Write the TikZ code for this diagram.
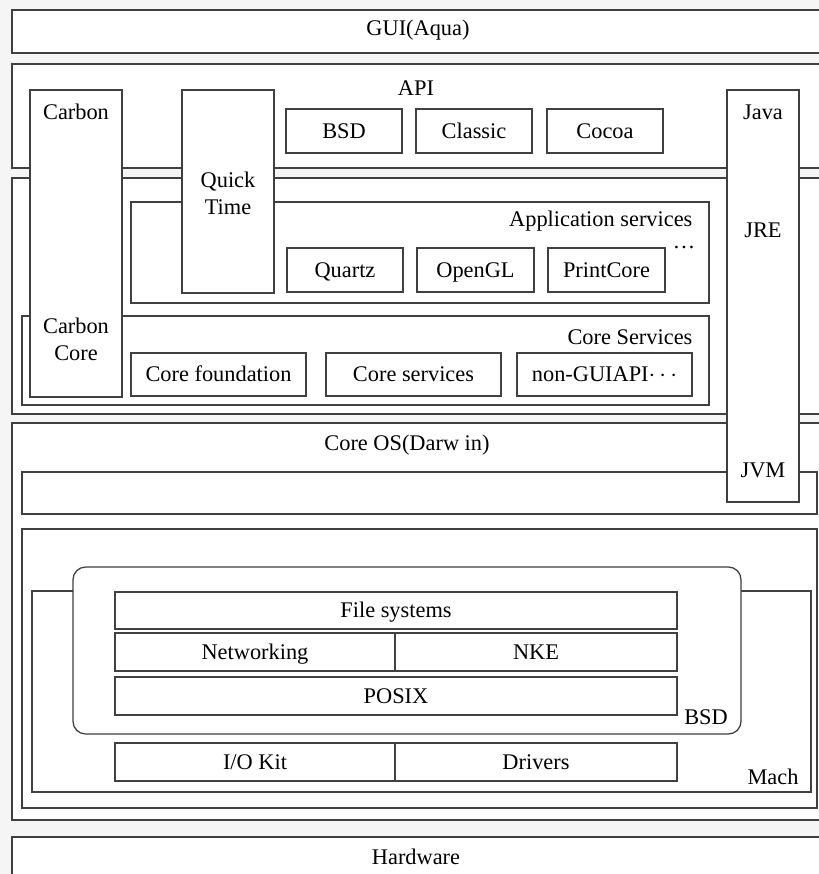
\documentclass[tikz,border=0pt]{standalone}
\usepackage{fontspec}
\setmainfont{Liberation Serif}
\usetikzlibrary{fit}

\begin{document}
\begin{tikzpicture}[x=0.025cm, y=-0.025cm, line width=0.9pt, font={\fontsize{15.9pt}{19.1pt}\selectfont},
  every label/.append style={inner sep=0pt, text height=10.5pt, text depth=0pt}]
  \tikzstyle{layerbox} = [draw=black!75, fill=white, rectangle, inner sep=0pt]
  \tikzstyle{modbox} = [layerbox]
  \tikzstyle{boxtext} = [inner sep=0pt, align=center];

  \useasboundingbox (0,0) rectangle (819,874);
  \clip (0,0) rectangle (819,874);
  \fill[black!4] (0,0) rectangle (819,874);

  % outer layers
  \node[layerbox, fit={(12,10) (830,53)}] (gui) {};
  \node[boxtext] (guitxt) at (418,30) {GUI(Aqua)};
  \node[layerbox, fit={(12,64) (830,168)}] (api) {};
  \node[boxtext] (apitxt) at (416,88) {API};
  \node[layerbox, fit={(12,178) (830,414)}] (services) {};
  \node[layerbox, fit={(12,423) (830,820)}] (coreos) {};
  \node[boxtext] (coreostxt) at (407,445) {Core OS(Darw in)};
  \node[layerbox, fit={(12,837) (830,890)}] (hardware) {};
  \node[boxtext] (hardwaretxt) at (416,857) {Hardware};

  % API
  \node[modbox, fit={(286,109) (402,153)}, label=center:BSD] (bsdapi) {};
  \node[modbox, fit={(416,109) (532,153)}, label=center:Classic] (classic) {};
  \node[modbox, fit={(547,109) (663,153)}, label=center:Cocoa] (cocoa) {};

  % application services
  \node[layerbox, fit={(131,202) (709,303)}] (appsrv) {};
  \node[boxtext, anchor=east] (appsrvtxt) at (693,221) {Application services};
  \node[boxtext] (appsrvdots) at (684,247) {\dots};
  \node[modbox, fit={(287,248) (403,292)}, label=center:Quartz] (quartz) {};
  \node[modbox, fit={(417,248) (534,292)}, label=center:OpenGL] (opengl) {};
  \node[modbox, fit={(548,248) (665,292)}, label=center:PrintCore] (printcore) {};

  % core services
  \node[layerbox, fit={(22,316) (709,405)}] (coresrv) {};
  \node[boxtext, anchor=east] (coresrvtxt) at (693,337) {Core Services};
  \node[modbox, fit={(131,353) (306,396)}, label=center:Core foundation] (corefound) {};
  \node[modbox, fit={(326,353) (501,396)}, label=center:Core services] (coreserv) {};
  \node[modbox, fit={(517,353) (692,396)}, label={center:non-GUIAPI$\cdots$}] (nongui) {};

  % core os
  \node[layerbox, fit={(22,472) (817,514)}] (strip) {};
  \node[layerbox, fit={(22,529) (817,808)}] (kernel) {};
  \node[layerbox, fit={(32,591) (811,792)}] (mach) {};
  \node[boxtext] (machtxt) at (773,777) {Mach};
  \node[layerbox, rounded corners=9pt, fit={(73,567) (741,734)}] (bsdkern) {};
  \node[boxtext] (bsdkerntxt) at (706,717) {BSD};
  \node[modbox, fit={(115,592) (677,629)}, label=center:File systems] (filesys) {};
  \node[modbox, fit={(115,633) (395,671)}, label=center:Networking] (networking) {};
  \node[modbox, fit={(395,633) (677,671)}, label=center:NKE] (nke) {};
  \node[modbox, fit={(115,677) (677,715)}, label=center:POSIX] (posix) {};
  \node[modbox, fit={(115,743) (395,781)}, label=center:I/O Kit] (iokit) {};
  \node[modbox, fit={(395,743) (677,781)}, label=center:Drivers] (drivers) {};

  % columns through the layers
  \node[layerbox, fit={(30,90) (122,397)}] (carbon) {};
  \node[boxtext] (carbontxt) at (76,112) {Carbon};
  \node[boxtext] (carboncoretxt) at (76,339) {Carbon\\Core};
  \node[layerbox, fit={(182,90) (274,293)}] (quicktime) {};
  \node[boxtext] (quicktimetxt) at (228,193) {Quick\\Time};
  \node[layerbox, fit={(727,90) (799,502)}] (java) {};
  \node[boxtext] (javatxt) at (763,112) {Java};
  \node[boxtext] (jretxt) at (763,230) {JRE};
  \node[boxtext] (jvmtxt) at (763,470) {JVM};
\end{tikzpicture}
\end{document}
